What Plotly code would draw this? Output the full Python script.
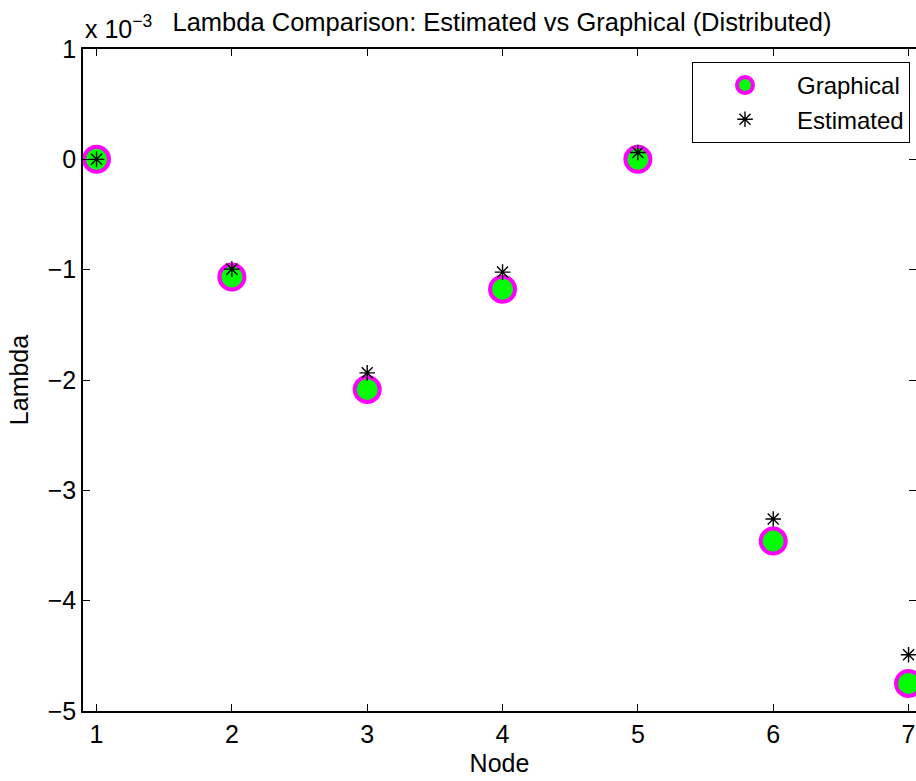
import plotly.graph_objects as go

nodes = [1, 2, 3, 4, 5, 6, 7]
graphical = [0.0, -1.066e-3, -2.085e-3, -1.177e-3, 0.0, -3.46e-3, -4.75e-3]
estimated = [0.0, -0.995e-3, -1.935e-3, -1.022e-3, 0.062e-3, -3.26e-3, -4.49e-3]

x_ticks = [1, 2, 3, 4, 5, 6, 7]
y_tickvals = [1e-3, 0, -1e-3, -2e-3, -3e-3, -4e-3, -5e-3]
y_ticktext = ["1", "0", "\u22121", "\u22122", "\u22123", "\u22124", "\u22125"]

FONT = "Liberation Sans, Arial, Helvetica, sans-serif"
FS = 25

fig = go.Figure()
fig.add_trace(go.Scatter(
    x=nodes, y=graphical, mode="markers", name="Graphical",
    marker=dict(symbol="circle", size=25, color="#00FF00",
                line=dict(color="#FF00FF", width=4)),
    cliponaxis=False,
))
fig.add_trace(go.Scatter(
    x=nodes, y=estimated, mode="markers", name="Estimated",
    marker=dict(symbol="asterisk-open", size=13, color="black",
                line=dict(color="black", width=1.4)),
    cliponaxis=False,
))
# invisible trace for right-side tick marks
fig.add_trace(go.Scatter(x=[nodes[0]], y=[graphical[0]], yaxis="y2",
                         mode="markers", marker=dict(opacity=0),
                         showlegend=False, hoverinfo="skip"))

yr = [-5e-3, 1e-3]
fig.update_layout(
    width=916, height=781,
    margin=dict(l=83, r=0, t=49, b=70),
    plot_bgcolor="white", paper_bgcolor="white",
    font=dict(family=FONT, size=FS, color="black"),
    showlegend=True,
    legend=dict(
        x=(910 - 83) / 833, xanchor="right",
        y=(711 - 62) / 662, yanchor="top",
        bgcolor="white", bordercolor="black", borderwidth=1,
        font=dict(family=FONT, size=24, color="black"),
        itemwidth=94, tracegroupgap=0,
    ),
    xaxis=dict(
        range=[0.9, 7.055], tickvals=x_ticks, ticktext=[str(v) for v in x_ticks],
        ticks="inside", ticklen=7, tickwidth=1, tickcolor="black",
        showline=True, linecolor="black", linewidth=1.5, mirror="ticks",
        showgrid=False, zeroline=False,
        title=dict(text="Node", font=dict(size=FS), standoff=8),
        tickfont=dict(size=FS),
    ),
    yaxis=dict(
        range=yr, tickvals=y_tickvals, ticktext=y_ticktext,
        ticks="inside", ticklen=7, tickwidth=1, tickcolor="black",
        showline=True, linecolor="black", linewidth=1.5, mirror=False,
        showgrid=False, zeroline=False,
        title=dict(text="Lambda", font=dict(size=FS), standoff=12),
        tickfont=dict(size=FS),
    ),
    yaxis2=dict(
        range=yr, tickvals=y_tickvals, overlaying="y", side="right",
        ticks="inside", ticklen=7, tickwidth=1, tickcolor="black",
        showticklabels=False, showline=False, showgrid=False, zeroline=False,
    ),
    title=dict(text="Lambda Comparison: Estimated vs Graphical (Distributed)",
               x=502 / 916, xanchor="center", y=1 - 22 / 781, yanchor="middle",
               font=dict(family=FONT, size=25.5, color="black")),
    annotations=[dict(
        text="x 10<sup>\u22123</sup>", xref="paper", yref="paper",
        x=0, xanchor="left", y=1 + 4 / 662, yanchor="bottom",
        showarrow=False, font=dict(family=FONT, size=FS, color="black"),
    )],
)

fig.write_html("out.html")
